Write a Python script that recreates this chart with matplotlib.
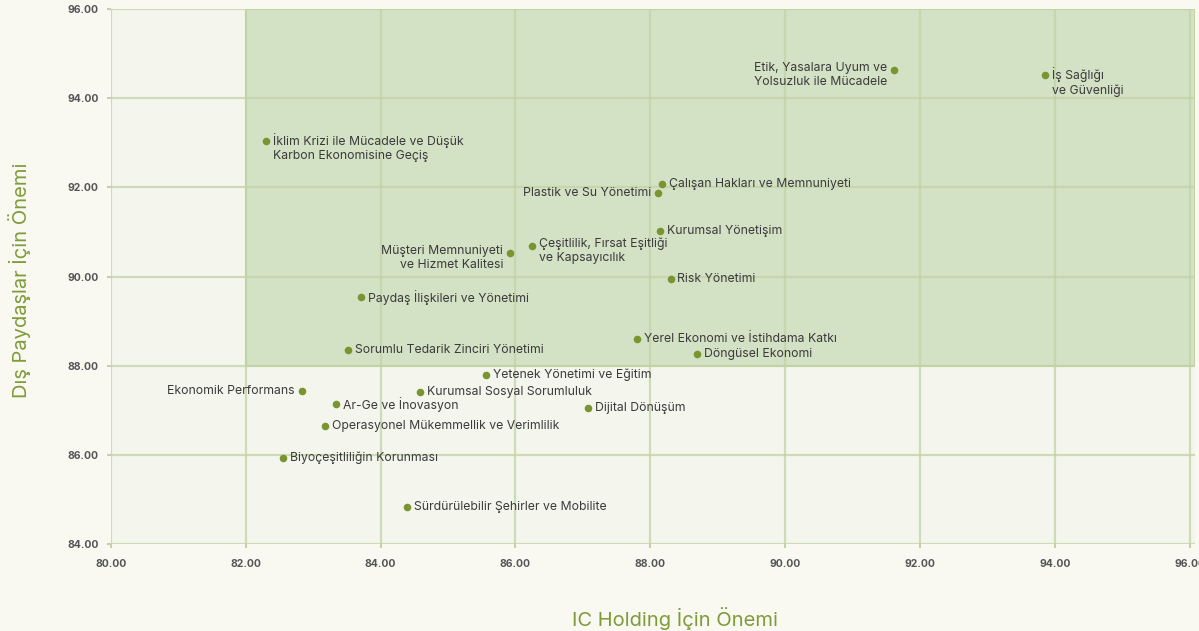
import numpy as np
import matplotlib.pyplot as plt
from matplotlib.patches import Rectangle

# Data
labels = [
    "İklim Krizi ile Mücadele ve Düşük\nKarbon Ekonomisine Geçiş",
    "Etik, Yasalara Uyum ve\nYolsuzluk ile Mücadele",
    "İş Sağlığı\nve Güvenliği",
    "Çalışan Hakları ve Memnuniyeti",
    "Plastik ve Su Yönetimi",
    "Kurumsal Yönetişim",
    "Çeşitlilik, Fırsat Eşitliği\nve Kapsayıcılık",
    "Müşteri Memnuniyeti\nve Hizmet Kalitesi",
    "Risk Yönetimi",
    "Paydaş İlişkileri ve Yönetimi",
    "Yerel Ekonomi ve İstihdama Katkı",
    "Döngüsel Ekonomi",
    "Sorumlu Tedarik Zinciri Yönetimi",
    "Yetenek Yönetimi ve Eğitim",
    "Ekonomik Performans",
    "Kurumsal Sosyal Sorumluluk",
    "Ar-Ge ve İnovasyon",
    "Dijital Dönüşüm",
    "Operasyonel Mükemmellik ve Verimlilik",
    "Biyoçeşitliliğin Korunması",
    "Sürdürülebilir Şehirler ve Mobilite",
]
holding = [82.30, 91.62, 93.86, 88.18, 88.12, 88.15, 86.24, 85.92, 88.30, 83.71,
           87.80, 88.70, 83.51, 85.56, 82.83, 84.58, 83.34, 87.07, 83.17, 82.55, 84.39]
stakeholders = [93.04, 94.63, 94.52, 92.08, 91.87, 91.02, 90.69, 90.53, 89.95, 89.54,
                88.60, 88.26, 88.35, 87.79, 87.43, 87.41, 87.14, 87.05, 86.65, 85.93, 84.83]
# labels drawn to the left of the point
left_side = ["Etik, Yasalara Uyum ve\nYolsuzluk ile Mücadele",
             "Plastik ve Su Yönetimi",
             "Müşteri Memnuniyeti\nve Hizmet Kalitesi",
             "Ekonomik Performans"]

x_ticks = np.arange(80, 97, 2)
y_ticks = np.arange(84, 97, 2)

bg = "#f9f9f2"
plot_bg = "#f4f5ed"
green_zone = "#d3e1c5"
grid_col = "#c3d3a5"
dot_col = "#7a9430"
text_col = "#3b3b3b"
title_col = "#7f9c3a"

plt.rcParams['font.family'] = ['Inter', 'DejaVu Sans']

fig = plt.figure(figsize=(11.99, 6.31), dpi=100, facecolor=bg)
ax = fig.add_axes([111 / 1199, 87 / 631, 1084 / 1199, 535 / 631])
ax.set_facecolor(plot_bg)

ax.set_xlim(80, 96.08)
ax.set_ylim(84, 96)

ax.add_patch(Rectangle((82, 88), 14.08, 8, facecolor=green_zone,
                       edgecolor="#bccf9f", lw=1.2, zorder=0.5))

for xv in x_ticks:
    ax.axvline(xv, color=grid_col, lw=1.6, alpha=0.75, zorder=1)
for yv in y_ticks:
    ax.axhline(yv, color=grid_col, lw=1.6, alpha=0.75, zorder=1)

ax.scatter(holding, stakeholders, s=30, color=dot_col, zorder=3, linewidths=0)

fs = 8.8
for lab, xv, yv in zip(labels, holding, stakeholders):
    multi = "\n" in lab
    dx = -5 if lab in left_side else 5
    ax.annotate(lab, (xv, yv), xytext=(dx, 6 if multi else 0),
                textcoords="offset points",
                ha="right" if dx < 0 else "left",
                va="top" if multi else "center",
                multialignment="right" if dx < 0 else "left",
                fontsize=fs, color=text_col, linespacing=1.25, zorder=4)

ax.set_xticks(x_ticks)
ax.set_yticks(y_ticks)
ax.set_xticklabels([f"{v:.2f}" for v in x_ticks])
ax.set_yticklabels([f"{v:.2f}" for v in y_ticks])
ax.tick_params(length=3, width=1.5, color=grid_col, labelcolor="#555555",
               labelsize=7.5, pad=8)
ax.tick_params(axis="y", pad=6)
for t in ax.get_xticklabels() + ax.get_yticklabels():
    t.set_fontweight("bold")

for sp in ax.spines.values():
    sp.set_visible(False)

fig.text(675 / 1199, 1 - 618 / 631, "IC Holding İçin Önemi", fontsize=14.5,
         color=title_col, ha="center", va="center")
fig.text(20 / 1199, 1 - 280 / 631, "Dış Paydaşlar İçin Önemi", fontsize=14.5,
         color=title_col, ha="center", va="center", rotation=90)

fig.savefig("out.png", dpi=100, facecolor=bg)
